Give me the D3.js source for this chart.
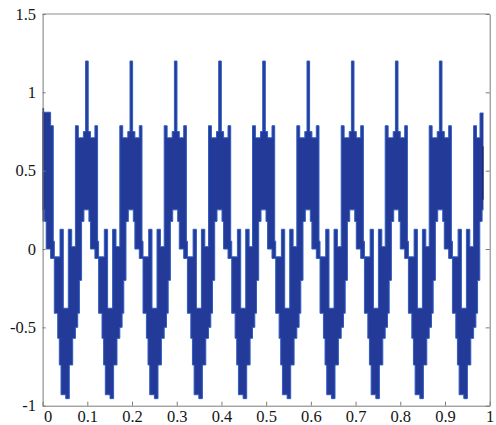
<!DOCTYPE html>
<html lang="en">
<head>
<meta charset="UTF-8">
<title>Switching waveform</title>
<script src="https://d3js.org/d3.v7.min.js"></script>
<style>
  body { margin: 0; background: #fff; }
  svg { display: block; }
  .axis text { font-family: "Liberation Serif", "DejaVu Serif", serif; font-size: 16.5px; fill: #151515; }
  .axis path, .axis line { stroke: #7a7a7a; }
  .frame { stroke: #8c8c8c; stroke-width: 1; fill: none; }
  .wave { fill: #243a98; stroke: #2f5cbf; stroke-width: 1; }
  .edge { stroke: #1b2870; stroke-width: 1.6; }
</style>
</head>
<body>
<svg width="496" height="425"></svg>
<script>
// x of each positive spike (one per period)
const peakCenters = [0.0, 0.0991, 0.1984, 0.2977, 0.3968, 0.4952, 0.5943, 0.6936, 0.7920, 0.8904, 0.9897];

// one period of the band:
// offset from the spike, then top and bottom of the filled band from there on
const bandOffset = [-0.0257, -0.0206, -0.0192, -0.0168, -0.0119, -0.0078, -0.0067, -0.0029, 0.0029, 0.0045,
                    0.0080, 0.0179, 0.0239, 0.0262, 0.0338, 0.0374, 0.0389, 0.0412, 0.0463, 0.0517,
                    0.0575, 0.0597, 0.0651, 0.0673];
const bandTop    = [0.787, 0.787, 0.71, 0.71, 0.71, 0.75, 0.75, 1.2, 0.75, 0.75,
                    0.71, 0.787, 0.05, -0.05, -0.05, -0.05, 0.126, 0.126, -0.378, -0.378,
                    0.126, 0.126, 0.015, 0.015];
const bandBottom = [-0.50, -0.41, -0.41, -0.20, 0.176, 0.176, 0.25, 0.25, 0.25, 0.176,
                    0.0, -0.06, -0.06, -0.41, -0.57, -0.74, -0.74, -0.93, -0.93, -0.955,
                    -0.955, -0.74, -0.74, -0.57];

// the trace stops just short of x = 1
const traceEnd = 0.986;

// both cut ends have a taller prong instead of the usual spike
const edgeFrom = [-0.03, 0.9783];
const edgeTo = [0.0114, 1.0];
const edgeTop = [0.873, 0.868];

// dark vertical edges where the trace starts and stops
const edgeLineX = [0.0016, 0.9845];
const edgeLineTop = [0.9, 0.655];
const edgeLineBottom = [0.176, 0.315];

const xTicks = [0, 0.1, 0.2, 0.3, 0.4, 0.5, 0.6, 0.7, 0.8, 0.9, 1];
const xTickLabels = ["0", "0.1", "0.2", "0.3", "0.4", "0.5", "0.6", "0.7", "0.8", "0.9", "1"];
const yTicks = [-1, -0.5, 0, 0.5, 1, 1.5];
const yTickLabels = ["-1", "-0.5", "0", "0.5", "1", "1.5"];

const svg = d3.select("svg");
const x = d3.scaleLinear().domain([0, 1]).range([42.6, 489.7]);
const y = d3.scaleLinear().domain([-1, 1.5]).range([405.7, 14]);

// build the band columns
let cols = [];
peakCenters.forEach(p => {
    bandOffset.forEach((dx, i) => cols.push({ x: p + dx, top: bandTop[i], bot: bandBottom[i] }));
});
cols.sort((a, b) => a.x - b.x);

function colAt(v) {
    let c = cols[0];
    for (const d of cols) { if (d.x <= v) c = d; else break; }
    return c;
}

edgeFrom.forEach((x0, i) => {
    const x1 = edgeTo[i];
    const before = colAt(x0), after = colAt(x1);
    cols.forEach(d => { if (d.x >= x0 && d.x < x1) d.top = edgeTop[i]; });
    cols.push({ x: x0, top: edgeTop[i], bot: before.bot });
    cols.push({ x: x1, top: after.top, bot: after.bot });
    cols.sort((a, b) => a.x - b.x);
});

svg.append("clipPath").attr("id", "trace-clip")
    .append("rect")
    .attr("x", x(0)).attr("y", 0)
    .attr("width", x(traceEnd) - x(0)).attr("height", 425);

const area = d3.area()
    .x(d => x(d.x))
    .y0(d => y(d.bot))
    .y1(d => y(d.top))
    .curve(d3.curveStepAfter);

svg.append("path")
    .datum(cols)
    .attr("class", "wave")
    .attr("clip-path", "url(#trace-clip)")
    .attr("d", area);

svg.selectAll(".edge")
    .data(edgeLineX)
    .enter().append("line")
    .attr("class", "edge")
    .attr("x1", d => x(d)).attr("x2", d => x(d))
    .attr("y1", (d, i) => y(edgeLineTop[i]))
    .attr("y2", (d, i) => y(edgeLineBottom[i]));

// frame: top and right
svg.append("line").attr("class", "frame")
    .attr("x1", x(0)).attr("x2", x(1)).attr("y1", y(1.5)).attr("y2", y(1.5));

svg.append("g")
    .attr("class", "axis")
    .attr("transform", `translate(${x(1)},0)`)
    .call(d3.axisRight(y).tickValues(yTicks).tickSizeInner(-4).tickSizeOuter(0).tickFormat(""));

// axes with inward ticks
const xAxis = svg.append("g")
    .attr("class", "axis")
    .attr("transform", `translate(0,${y(-1)})`)
    .call(d3.axisBottom(x).tickValues(xTicks).tickSizeInner(-4).tickSizeOuter(0).tickPadding(5)
        .tickFormat((d, i) => xTickLabels[i]));
xAxis.selectAll("text").attr("dx", (d, i) => i === 0 ? 5 : 0);

svg.append("g")
    .attr("class", "axis")
    .attr("transform", `translate(${x(0)},0)`)
    .call(d3.axisLeft(y).tickValues(yTicks).tickSizeInner(-3).tickSizeOuter(0).tickPadding(6.5)
        .tickFormat((d, i) => yTickLabels[i]));

svg.selectAll(".axis").attr("font-family", null).attr("font-size", null);
svg.selectAll(".axis text")
    .style("font-family", "'Liberation Serif', 'DejaVu Serif', serif")
    .style("font-size", "16.5px");
svg.selectAll(".axis .domain").attr("stroke", "#7a7a7a");
</script>
</body>
</html>
